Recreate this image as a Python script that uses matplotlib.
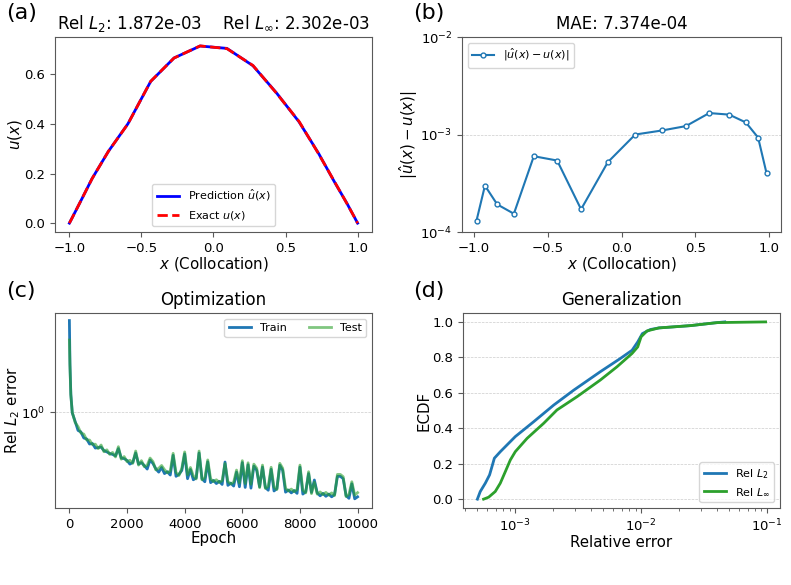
import numpy as np
import matplotlib
matplotlib.use("Agg")
import matplotlib.pyplot as plt
from matplotlib.ticker import NullLocator

# (a) collocation points and solution
x_colloc = [-1.0, -0.982, -0.925, -0.842, -0.729, -0.594, -0.436, -0.274, -0.093,
            0.093, 0.274, 0.436, 0.594, 0.729, 0.842, 0.925, 0.982, 1.0]
u_exact = [0.0, 0.02, 0.085, 0.18, 0.29, 0.40, 0.572, 0.666, 0.715,
           0.704, 0.636, 0.525, 0.41, 0.28, 0.165, 0.08, 0.02, 0.0]

# (b) pointwise absolute error at interior points
x_interior = x_colloc[1:-1]
abs_err = [1.31e-4, 2.99e-4, 1.92e-4, 1.54e-4, 5.99e-4, 5.41e-4, 1.71e-4, 5.20e-4,
           1.00e-3, 1.10e-3, 1.22e-3, 1.66e-3, 1.60e-3, 1.33e-3, 9.30e-4, 4.01e-4]
err_sign = [1, -1, 1, -1, 1, -1, 1, -1, 1, -1, 1, -1, 1, -1, 1, -1]

# (c) optimization history (read every 100 epochs)
epochs = [0, 20, 50] + list(range(100, 10001, 100))
train_err = [2.02, 1.45, 1.15,
    0.995, 0.932, 0.870, 0.860, 0.821, 0.815, 0.784, 0.787, 0.760, 0.763,
    0.766, 0.745, 0.738, 0.729, 0.724, 0.716, 0.757, 0.704, 0.701, 0.691,
    0.672, 0.681, 0.732, 0.672, 0.680, 0.664, 0.647, 0.694, 0.675, 0.648,
    0.632, 0.655, 0.625, 0.634, 0.618, 0.719, 0.612, 0.621, 0.640, 0.727,
    0.601, 0.645, 0.596, 0.605, 0.732, 0.601, 0.587, 0.684, 0.583, 0.593,
    0.579, 0.589, 0.575, 0.683, 0.571, 0.581, 0.568, 0.632, 0.565, 0.680,
    0.562, 0.669, 0.559, 0.662, 0.641, 0.565, 0.657, 0.562, 0.550, 0.646,
    0.547, 0.557, 0.666, 0.641, 0.542, 0.551, 0.539, 0.549, 0.537, 0.657,
    0.534, 0.544, 0.625, 0.541, 0.595, 0.539, 0.527, 0.537, 0.525, 0.534,
    0.523, 0.532, 0.612, 0.612, 0.601, 0.528, 0.517, 0.578, 0.515, 0.523]
test_err = [1.74, 1.42, 1.14,
    1.000, 0.925, 0.896, 0.853, 0.846, 0.809, 0.808, 0.781, 0.783, 0.757,
    0.778, 0.739, 0.750, 0.724, 0.735, 0.710, 0.768, 0.698, 0.712, 0.685,
    0.692, 0.676, 0.743, 0.667, 0.690, 0.659, 0.666, 0.704, 0.685, 0.643,
    0.651, 0.665, 0.644, 0.629, 0.637, 0.730, 0.630, 0.616, 0.650, 0.738,
    0.619, 0.655, 0.614, 0.600, 0.743, 0.596, 0.605, 0.694, 0.600, 0.588,
    0.596, 0.584, 0.592, 0.675, 0.588, 0.577, 0.585, 0.642, 0.582, 0.690,
    0.579, 0.679, 0.576, 0.672, 0.651, 0.561, 0.667, 0.558, 0.567, 0.656,
    0.563, 0.553, 0.676, 0.651, 0.558, 0.547, 0.555, 0.544, 0.553, 0.667,
    0.550, 0.539, 0.634, 0.536, 0.585, 0.534, 0.543, 0.532, 0.541, 0.530,
    0.539, 0.528, 0.621, 0.621, 0.610, 0.524, 0.533, 0.587, 0.530, 0.540]

# (d) ECDF of relative errors over the test set
l2_err = [5.0e-4, 5.27e-4, 5.78e-4, 6.25e-4, 6.53e-4, 6.82e-4, 7.61e-4, 1.0e-3, 1.40e-3,
          2.02e-3, 2.91e-3, 4.73e-3, 6.83e-3, 8.45e-3, 9.37e-3, 1.02e-2, 1.18e-2,
          1.38e-2, 2.46e-2, 3.77e-2, 4.6e-2]
l2_ecdf = [0.0, 0.043, 0.09, 0.137, 0.184, 0.231, 0.268, 0.353, 0.437,
           0.531, 0.615, 0.719, 0.794, 0.84, 0.887, 0.934, 0.957,
           0.966, 0.979, 0.994, 1.0]
linf_err = [5.6e-4, 6.14e-4, 6.93e-4, 7.6e-4, 8.34e-4, 9.13e-4, 1.0e-3, 1.24e-3, 1.68e-3,
            2.14e-3, 3.09e-3, 4.73e-3, 6.42e-3, 8.45e-3, 9.37e-3, 9.97e-3, 1.11e-2,
            1.38e-2, 2.46e-2, 4.0e-2, 9.7e-2]
linf_ecdf = [0.0, 0.011, 0.043, 0.09, 0.156, 0.221, 0.268, 0.343, 0.428,
             0.503, 0.578, 0.672, 0.747, 0.822, 0.859, 0.916, 0.949,
             0.966, 0.979, 0.996, 1.0]

plt.rcParams['font.size'] = 10
plt.rcParams['xtick.labelsize'] = 9.5
plt.rcParams['ytick.labelsize'] = 9.5
plt.rcParams['axes.titlesize'] = 12
plt.rcParams['axes.labelsize'] = 10.8
plt.rcParams['axes.labelpad'] = 0.5
plt.rcParams['legend.fontsize'] = 8
plt.rcParams['axes.edgecolor'] = '0.35'
plt.rcParams['xtick.color'] = '0.35'
plt.rcParams['ytick.color'] = '0.35'
plt.rcParams['xtick.labelcolor'] = 'black'
plt.rcParams['ytick.labelcolor'] = 'black'


def hgrid(ax):
    ax.yaxis.grid(True, ls='--', lw=0.5, color='0.8')
    ax.set_axisbelow(True)


fig = plt.figure(figsize=(7.91, 5.85), dpi=100)
ax_a = fig.add_axes([0.0695, 0.6034, 0.4008, 0.3333])
ax_b = fig.add_axes([0.5841, 0.6034, 0.4033, 0.3333])
ax_c = fig.add_axes([0.0695, 0.1316, 0.4008, 0.3333])
ax_d = fig.add_axes([0.5853, 0.1316, 0.4008, 0.3333])

# (a) prediction vs exact
u_pred = [u for u in u_exact]
for i in range(len(abs_err)):
    u_pred[i + 1] = u_exact[i + 1] + err_sign[i] * abs_err[i]
ax_a.plot(x_colloc, u_pred, color='b', lw=2, label=r'Prediction $\hat{u}(x)$')
ax_a.plot(x_colloc, u_exact, 'r--', lw=2, label=r'Exact $u(x)$')
ax_a.set_title(r'Rel $L_2$: 1.872e-03    Rel $L_\infty$: 2.302e-03')
ax_a.set_xlabel(r'$x$ (Collocation)')
ax_a.set_ylabel(r'$u(x)$')
ax_a.set_yticks([0.0, 0.2, 0.4, 0.6])
ax_a.legend(loc='lower center')

# (b) pointwise error
ax_b.plot(x_interior, abs_err, '-o', color='C0', lw=1.5, ms=3.5, mfc='white', mew=1,
          label=r'$|\hat{u}(x) - u(x)|$')
ax_b.set_yscale('log')
ax_b.set_ylim(1e-4, 1e-2)
ax_b.yaxis.set_minor_locator(NullLocator())
ax_b.set_title('MAE: 7.374e-04')
ax_b.set_xlabel(r'$x$ (Collocation)')
ax_b.set_ylabel(r'$|\hat{u}(x) - u(x)|$')
ax_b.legend(loc='upper left')
hgrid(ax_b)

# (c) optimization
ax_c.plot(epochs, train_err, color='C0', lw=2, label='Train')
ax_c.plot(epochs, test_err, color='C2', lw=2, alpha=0.6, label='Test')
ax_c.set_yscale('log')
ax_c.set_ylim(0.48, 2.14)
ax_c.yaxis.set_minor_locator(NullLocator())
ax_c.set_xticks([0, 2000, 4000, 6000, 8000, 10000])
ax_c.set_title('Optimization')
ax_c.set_xlabel('Epoch')
ax_c.set_ylabel(r'Rel $L_2$ error')
ax_c.yaxis.set_label_coords(-0.105, 0.5)
ax_c.legend(loc='upper right', ncol=2)
hgrid(ax_c)

# (d) generalization
ax_d.plot(l2_err, l2_ecdf, color='C0', lw=2, label=r'Rel $L_2$')
ax_d.plot(linf_err, linf_ecdf, color='C2', lw=2, label=r'Rel $L_\infty$')
ax_d.set_xscale('log')
ax_d.set_yticks([0.0, 0.2, 0.4, 0.6, 0.8, 1.0])
ax_d.set_title('Generalization')
ax_d.set_xlabel('Relative error')
ax_d.set_ylabel('ECDF')
ax_d.legend(loc='lower right')
hgrid(ax_d)

for label, (px, py) in zip(['(a)', '(b)', '(c)', '(d)'],
                           [(0.008, 0.995), (0.522, 0.995), (0.008, 0.52), (0.522, 0.52)]):
    fig.text(px, py, label, fontsize=16, va='top', ha='left')

fig.savefig('out.png', dpi=100)
